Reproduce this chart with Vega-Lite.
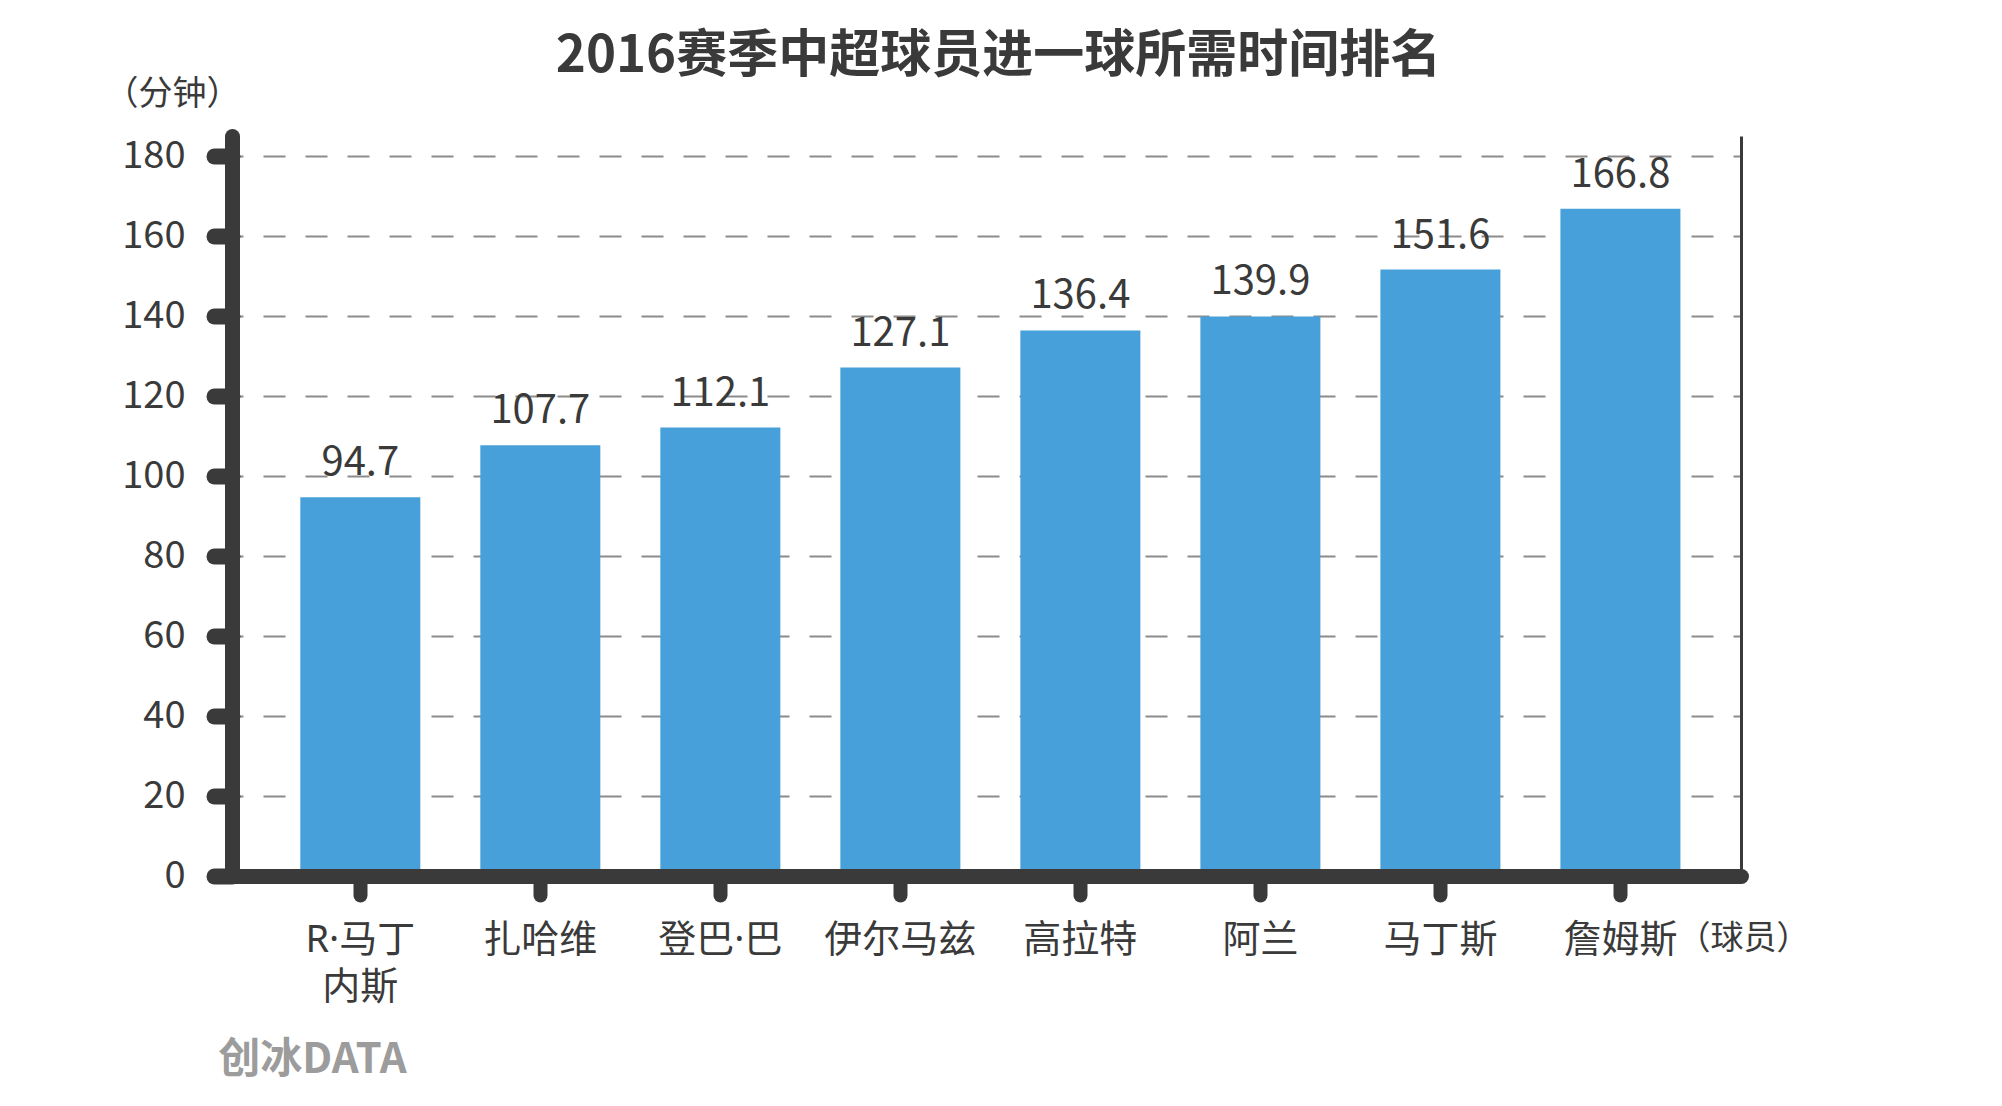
{
  "$schema": "https://vega.github.io/schema/vega-lite/v6.json",
  "autosize": {"type": "none"},
  "width": 1509,
  "height": 740,
  "padding": {"left": 232, "top": 136, "right": 261, "bottom": 230},
  "background": "white",
  "config": {"font": "Noto Sans CJK SC", "view": {"stroke": null}},
  "title": {"text": "2016赛季中超球员进一球所需时间排名", "fontSize": 51, "fontWeight": "bold", "color": "#3a3a3a", "anchor": "middle", "dx": 12, "offset": -6},
  "data": {"values": [
    {"球员": "R·马丁内斯", "时间": 94.7},
    {"球员": "扎哈维", "时间": 107.7},
    {"球员": "登巴·巴", "时间": 112.1},
    {"球员": "伊尔马兹", "时间": 127.1},
    {"球员": "高拉特", "时间": 136.4},
    {"球员": "阿兰", "时间": 139.9},
    {"球员": "马丁斯", "时间": 151.6},
    {"球员": "詹姆斯", "时间": 166.8}
  ]},
  "layer": [
    {
      "mark": {"type": "bar", "color": "#47a0d9"},
      "encoding": {
        "x": {"field": "球员", "type": "nominal", "sort": null,
          "scale": {"paddingInner": 0.3333, "paddingOuter": 0.358, "align": 0.53},
          "axis": {"orient": "bottom", "labelAngle": 0, "labelFontSize": 38, "labelColor": "#3a3a3a", "labelPadding": 26, "labelLineHeight": 47,
            "labelFont": "Noto Sans, Noto Sans CJK SC",
            "labelExpr": "datum.label == 'R·马丁内斯' ? ['R·马丁', '内斯'] : datum.label",
            "tickSize": 19, "tickWidth": 14, "tickCap": "round", "tickColor": "#3a3a3a",
            "domainWidth": 15, "domainCap": "round", "domainColor": "#3a3a3a",
            "title": "（球员）", "titleFontSize": 33, "titleFontWeight": "normal", "titleColor": "#3a3a3a",
            "titleX": 1511, "titleY": 62, "titleAlign": "center", "titleBaseline": "middle", "zindex": 1}},
        "y": {"field": "时间", "type": "quantitative",
          "scale": {"domain": [0, 185], "nice": false},
          "axis": {"values": [0, 20, 40, 60, 80, 100, 120, 140, 160, 180],
            "labelFontSize": 38, "labelColor": "#3a3a3a", "labelPadding": 29,
            "tickSize": 18, "tickWidth": 16, "tickCap": "round", "tickColor": "#3a3a3a",
            "domainWidth": 15, "domainCap": "round", "domainColor": "#3a3a3a",
            "grid": true, "gridColor": "#8c8c8c", "gridWidth": 2, "gridDash": [22, 20], "gridDashOffset": 11,
            "title": "（分钟）", "titleAngle": 0, "titleFontSize": 34, "titleFontWeight": "normal", "titleColor": "#3a3a3a",
            "titleX": -60, "titleY": -42, "titleAlign": "center", "titleBaseline": "middle"}}
      }
    },
    {
      "mark": {"type": "text", "fontSize": 40, "color": "#3a3a3a", "baseline": "alphabetic", "dy": -22},
      "encoding": {
        "x": {"field": "球员", "type": "nominal", "sort": null,
          "axis": {"orient": "bottom", "domain": false, "ticks": false, "labels": false, "grid": false,
            "title": "创冰DATA", "titleFontSize": 42, "titleFontWeight": "bold", "titleColor": "#9c9c9c",
            "titleX": 80, "titleY": 183, "titleAlign": "center", "titleBaseline": "middle"}},
        "y": {"field": "时间", "type": "quantitative",
          "axis": {"orient": "right", "domain": true, "domainWidth": 3, "domainColor": "#3a3a3a",
            "labels": false, "ticks": false, "grid": false, "title": null}},
        "text": {"field": "时间", "type": "quantitative", "format": ".1f"}
      }
    }
  ],
  "resolve": {"axis": {"x": "independent", "y": "independent"}}
}
